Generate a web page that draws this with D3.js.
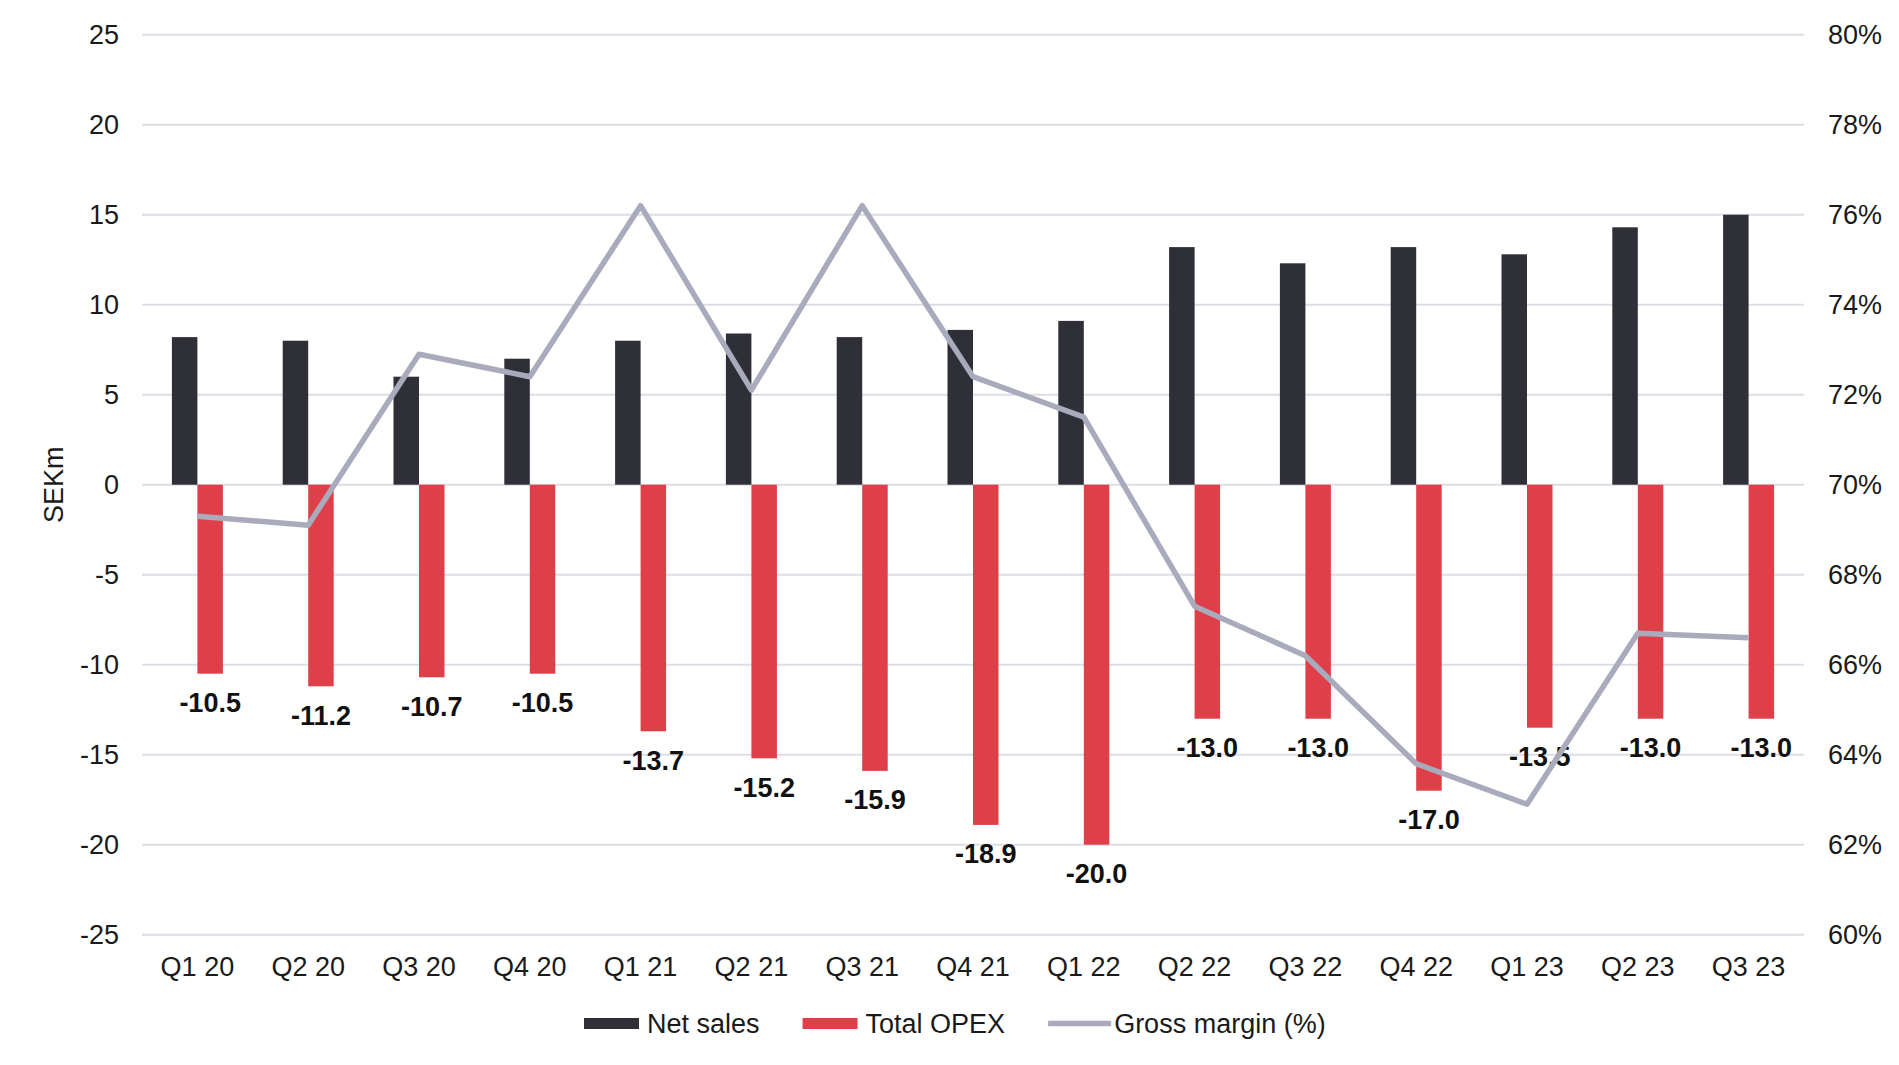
<!DOCTYPE html>
<html>
<head>
<meta charset="utf-8">
<script src="https://cdn.jsdelivr.net/npm/d3@7"></script>
<style>
  html, body { margin: 0; padding: 0; background: #ffffff; }
  svg { display: block; font-family: "Liberation Sans", Arial, sans-serif; }
</style>
</head>
<body>
<svg id="chart" width="1899" height="1065"></svg>
<script>
// ---- data ----
const categories = ["Q1 20","Q2 20","Q3 20","Q4 20","Q1 21","Q2 21","Q3 21","Q4 21","Q1 22","Q2 22","Q3 22","Q4 22","Q1 23","Q2 23","Q3 23"];
const netSales   = [8.2, 8.0, 6.0, 7.0, 8.0, 8.4, 8.2, 8.6, 9.1, 13.2, 12.3, 13.2, 12.8, 14.3, 15.0];
const totalOpex  = [-10.5, -11.2, -10.7, -10.5, -13.7, -15.2, -15.9, -18.9, -20.0, -13.0, -13.0, -17.0, -13.5, -13.0, -13.0];
const grossMargin = [0.693, 0.691, 0.729, 0.724, 0.762, 0.721, 0.762, 0.724, 0.715, 0.673, 0.662, 0.638, 0.629, 0.667, 0.666];
const leftTicks  = [-25, -20, -15, -10, -5, 0, 5, 10, 15, 20, 25];
const rightTicks = [0.60, 0.62, 0.64, 0.66, 0.68, 0.70, 0.72, 0.74, 0.76, 0.78, 0.80];
const seriesNames = ["Net sales", "Total OPEX", "Gross margin (%)"];

// ---- layout ----
const colors = { sales: "#2f2f38", opex: "#de3f49", margin: "#aaaabd", grid: "#dddde5", text: "#1a1a1a" };
const plot = { left: 142, right: 1804, top: 34.7, bottom: 934.7 };
const barW = 25.5;

const svg = d3.select("#chart");

const x = d3.scaleBand().domain(categories).range([plot.left, plot.right]).padding(0);
const yL = d3.scaleLinear().domain([-25, 25]).range([plot.bottom, plot.top]);
const yR = d3.scaleLinear().domain([0.60, 0.80]).range([plot.bottom, plot.top]);
const cx = c => x(c) + x.bandwidth() / 2;
const hyphen = s => s.replace(/\u2212/g, "-");

// gridlines
svg.append("g")
  .selectAll("line").data(leftTicks).join("line")
  .attr("x1", plot.left).attr("x2", plot.right)
  .attr("y1", d => yL(d)).attr("y2", d => yL(d))
  .attr("stroke", colors.grid).attr("stroke-width", 2);

// left axis
const gL = svg.append("g").attr("transform", `translate(${plot.left},0)`)
  .call(d3.axisLeft(yL).tickValues(leftTicks).tickSize(0).tickPadding(23).tickFormat(d => hyphen(d3.format("d")(d))));
gL.select(".domain").remove();
gL.selectAll("text").attr("font-size", 27).attr("fill", colors.text).attr("font-family", "Liberation Sans, Arial, sans-serif");

// right axis
const gR = svg.append("g").attr("transform", `translate(${plot.right},0)`)
  .call(d3.axisRight(yR).tickValues(rightTicks).tickSize(0).tickPadding(24).tickFormat(d3.format(".0%")));
gR.select(".domain").remove();
gR.selectAll("text").attr("font-size", 27).attr("fill", colors.text).attr("font-family", "Liberation Sans, Arial, sans-serif");

// x axis
const gX = svg.append("g").attr("transform", `translate(0,${plot.bottom})`)
  .call(d3.axisBottom(x).tickSize(0).tickPadding(22));
gX.select(".domain").remove();
gX.selectAll("text").attr("font-size", 27).attr("fill", colors.text).attr("font-family", "Liberation Sans, Arial, sans-serif");

// y title
svg.append("text")
  .attr("transform", `translate(54,${yL(0)}) rotate(-90)`)
  .attr("text-anchor", "middle").attr("dy", "0.35em")
  .attr("font-size", 27).attr("fill", colors.text)
  .text("SEKm");

// bars: net sales
svg.append("g").selectAll("rect").data(categories).join("rect")
  .attr("x", (d) => cx(d) - barW)
  .attr("y", (d, i) => yL(netSales[i]))
  .attr("width", barW)
  .attr("height", (d, i) => yL(0) - yL(netSales[i]))
  .attr("fill", colors.sales);

// bars: total opex
svg.append("g").selectAll("rect").data(categories).join("rect")
  .attr("x", (d) => cx(d))
  .attr("y", yL(0))
  .attr("width", barW)
  .attr("height", (d, i) => yL(totalOpex[i]) - yL(0))
  .attr("fill", colors.opex);

// opex labels
svg.append("g").selectAll("text").data(categories).join("text")
  .attr("x", d => cx(d) + barW / 2)
  .attr("y", (d, i) => yL(totalOpex[i]) + 29)
  .attr("dy", "0.35em")
  .attr("text-anchor", "middle")
  .attr("font-size", 27).attr("font-weight", "bold").attr("fill", "#111")
  .text((d, i) => hyphen(d3.format(".1f")(totalOpex[i])));

// gross margin line
const line = d3.line().x(d => cx(d.c)).y(d => yR(d.v));
svg.append("path")
  .datum(categories.map((c, i) => ({ c, v: grossMargin[i] })))
  .attr("d", line)
  .attr("fill", "none").attr("stroke", colors.margin).attr("stroke-width", 5.5)
  .attr("stroke-linejoin", "round");

// legend
const legY = 1023.5;
const leg = svg.append("g");
let lx = 584;
seriesNames.forEach((name, i) => {
  const sw = 55;
  if (i < 2) {
    leg.append("rect").attr("x", lx).attr("y", legY - 5.5).attr("width", sw).attr("height", 11)
      .attr("fill", i === 0 ? colors.sales : colors.opex);
  } else {
    leg.append("line").attr("x1", lx).attr("x2", lx + 63).attr("y1", legY).attr("y2", legY)
      .attr("stroke", colors.margin).attr("stroke-width", 5.5);
  }
  const tx = lx + (i < 2 ? sw + 8 : 66);
  const t = leg.append("text").attr("x", tx).attr("y", legY).attr("dy", "0.35em")
    .attr("font-size", 27).attr("fill", colors.text).text(name);
  lx = tx + t.node().getComputedTextLength() + 43;
});
</script>
</body>
</html>
